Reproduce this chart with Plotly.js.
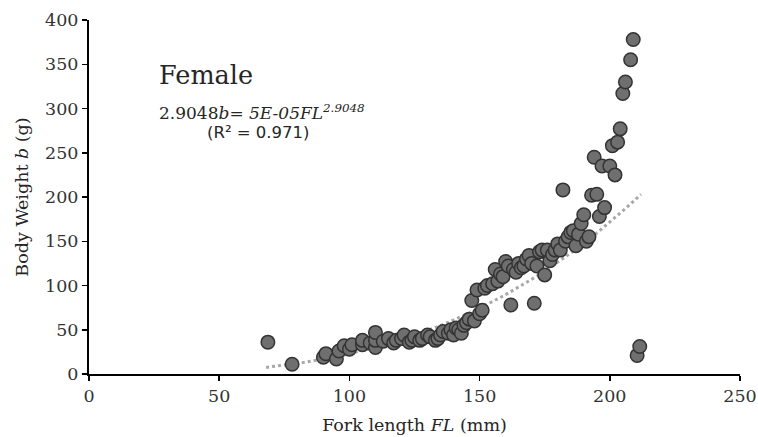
<!DOCTYPE html>
<html>
<head>
<meta charset="utf-8">
<script src="https://cdn.plot.ly/plotly-3.0.1.min.js"></script>
<style>html,body{margin:0;padding:0;background:#fff;}#chart{width:758px;height:437px;}</style>
</head>
<body>
<div id="chart"></div>
<script>
// Fork length FL (mm)
const forkLength = [68.7, 78, 90, 91, 95, 96, 98, 100, 101, 105, 105, 108, 110, 110, 110,
  113, 115, 117, 118, 120, 121, 123, 124, 125, 127, 128, 130, 131, 133, 134, 135, 136,
  138, 139, 140, 141, 142, 143, 144, 145, 146, 147, 148, 149, 150, 151, 152, 153, 155,
  156, 157, 158, 159, 160, 161, 162, 163, 164, 165, 166, 167, 168, 169, 170, 171, 172,
  173, 174, 175, 176, 177, 178, 179, 180, 181, 182, 183, 184, 185, 186, 187, 188, 189,
  190, 191, 192, 193, 194, 195, 196, 197, 198, 200, 201, 202, 203, 204, 205, 206, 208,
  209, 210.5, 211.5];
// Body weight b (g)
const bodyWeight = [36, 11, 19, 23, 17, 26, 32, 28, 33, 33, 38, 35, 30, 38, 47,
  37, 40, 35, 38, 40, 44, 36, 38, 42, 38, 40, 44, 42, 38, 40, 44, 48,
  46, 50, 44, 52, 50, 46, 55, 58, 62, 83, 60, 95, 68, 72, 97, 100, 102,
  118, 105, 113, 110, 127, 122, 78, 118, 115, 125, 120, 122, 130, 134, 125, 80, 122,
  138, 140, 112, 140, 128, 135, 140, 147, 140, 208, 150, 155, 160, 162, 145, 158, 170,
  180, 150, 155, 202, 245, 203, 178, 235, 188, 235, 258, 225, 262, 277, 317, 330, 355,
  378, 21, 31];
// Power trendline W = a * FL^b as drawn
const trendA = 3.55e-5;
const trendB = 2.9048;
const trendFrom = 68;
const trendTo = 212;

const tx = [], ty = [];
for (let i = 0; i <= 72; i++) {
  const x = trendFrom + (trendTo - trendFrom) * i / 72;
  tx.push(x); ty.push(trendA * Math.pow(x, trendB));
}

const serif = '"DejaVu Serif", serif';

const data = [
  {x: tx, y: ty, mode: 'lines', type: 'scatter', hoverinfo: 'skip',
   line: {color: '#a8a8a8', width: 3, dash: 'dot'}},
  {x: forkLength, y: bodyWeight, mode: 'markers', type: 'scatter',
   marker: {size: 13.5, color: '#6f6f6f', line: {color: '#333333', width: 1.5}}}
];

const layout = {
  width: 758, height: 437,
  margin: {l: 89, r: 18, t: 20, b: 63},
  paper_bgcolor: '#ffffff', plot_bgcolor: '#ffffff',
  showlegend: false,
  font: {family: serif, color: '#262626', size: 16},
  xaxis: {
    range: [0, 250], tickvals: [0, 50, 100, 150, 200, 250],
    showgrid: false, zeroline: false, showline: true, linecolor: '#000', linewidth: 2,
    ticks: 'outside', ticklen: 5, tickwidth: 1.5, tickcolor: '#000',
    tickfont: {family: serif, size: 17.5, color: '#333'},
    title: {text: 'Fork length <i>FL</i> (mm)', font: {family: serif, size: 17.5, color: '#262626'}, standoff: 14}
  },
  yaxis: {
    range: [0, 400], tickvals: [0, 50, 100, 150, 200, 250, 300, 350, 400],
    showgrid: false, zeroline: false, showline: true, linecolor: '#000', linewidth: 2,
    ticks: 'outside', ticklen: 5, tickwidth: 1.5, tickcolor: '#000',
    tickfont: {family: serif, size: 17.5, color: '#333'},
    title: {text: 'Body Weight <i>b</i> (g)', font: {family: serif, size: 17.5, color: '#262626'}, standoff: 12}
  },
  annotations: [
    {xref: 'x', yref: 'y', x: 26, y: 338, xanchor: 'left', yanchor: 'middle', showarrow: false,
     text: 'Female', font: {family: serif, size: 25.5, color: '#262626'}},
    {xref: 'x', yref: 'y', x: 26.3, y: 296, xanchor: 'left', yanchor: 'middle', showarrow: false,
     text: '2.9048<i>b</i>= <i>5E-05FL<sup>2.9048</sup></i>', font: {family: serif, size: 17, color: '#262626'}},
    {xref: 'x', yref: 'y', x: 44.5, y: 273, xanchor: 'left', yanchor: 'middle', showarrow: false,
     text: '(R² = 0.971)', font: {family: '"DejaVu Sans", sans-serif', size: 16.5, color: '#262626'}}
  ]
};

Plotly.newPlot('chart', data, layout, {displayModeBar: false, staticPlot: true});
</script>
</body>
</html>
